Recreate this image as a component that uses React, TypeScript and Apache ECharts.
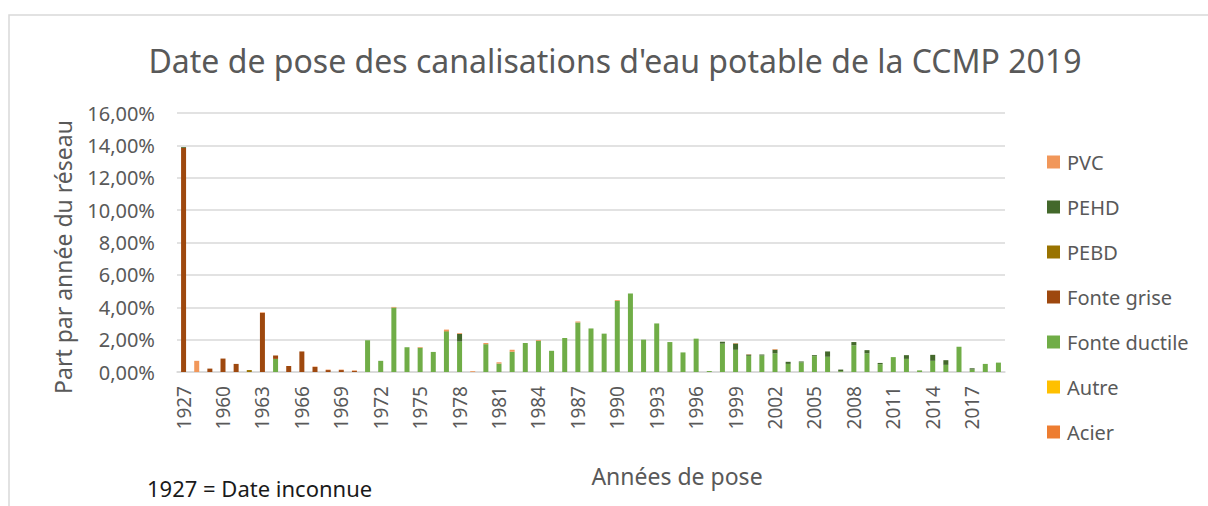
import React, { useEffect, useRef } from "react";
import * as echarts from "echarts";

const years = [
  "1927", "1958", "1959", "1960", "1961", "1962", "1963", "1964", "1965", "1966",
  "1967", "1968", "1969", "1970", "1971", "1972", "1973", "1974", "1975", "1976",
  "1977", "1978", "1979", "1980", "1981", "1982", "1983", "1984", "1985", "1986",
  "1987", "1988", "1989", "1990", "1991", "1992", "1993", "1994", "1995", "1996",
  "1997", "1998", "1999", "2000", "2001", "2002", "2003", "2004", "2005", "2006",
  "2007", "2008", "2009", "2010", "2011", "2012", "2013", "2014", "2015", "2016",
  "2017", "2018", "2019",
];

// values in % of network
const acier = [
  0, 0, 0, 0, 0, 0, 0, 0, 0, 0,
  0, 0, 0, 0, 0, 0, 0, 0, 0, 0,
  0, 0, 0, 0, 0, 0, 0, 0, 0, 0,
  0, 0, 0, 0, 0, 0, 0, 0, 0, 0,
  0, 0, 0, 0, 0, 0, 0, 0, 0, 0,
  0, 0, 0, 0, 0, 0, 0, 0, 0, 0,
  0, 0, 0,
];
const autre = [
  0, 0, 0, 0, 0, 0, 0, 0, 0, 0,
  0, 0, 0, 0, 0, 0, 0, 0, 0, 0,
  0, 0, 0, 0, 0, 0, 0, 0, 0, 0,
  0, 0, 0, 0, 0, 0, 0, 0, 0, 0,
  0, 0, 0, 0, 0, 0, 0, 0, 0, 0,
  0, 0, 0, 0, 0, 0, 0, 0, 0, 0,
  0, 0, 0,
];
const fonteDuctile = [
  0, 0, 0, 0, 0, 0, 0, 0.81, 0, 0,
  0, 0, 0, 0, 1.96, 0.69, 3.98, 1.53, 1.5, 1.24,
  2.5, 1.88, 0, 1.72, 0.52, 1.25, 1.79, 1.92, 1.31, 2.1,
  3.06, 2.69, 2.37, 4.39, 4.85, 2.0, 3.0, 1.85, 1.21, 2.06,
  0.06, 1.75, 1.37, 1.0, 1.02, 1.15, 0.5, 0.59, 0.98, 0.94,
  0.05, 1.65, 1.15, 0.48, 0.92, 0.81, 0.1, 0.69, 0.44, 1.56,
  0.15, 0.5, 0.58,
];
const fonteGrise = [
  13.85, 0, 0.21, 0.83, 0.5, 0, 3.65, 0.21, 0.37, 1.27,
  0.31, 0.12, 0.12, 0.06, 0, 0, 0, 0, 0, 0,
  0, 0, 0, 0, 0, 0, 0, 0, 0, 0,
  0, 0, 0, 0, 0, 0, 0, 0, 0, 0,
  0, 0, 0, 0, 0, 0, 0, 0, 0, 0,
  0, 0, 0, 0, 0, 0, 0, 0, 0, 0,
  0, 0, 0,
];
const pebd = [
  0, 0, 0, 0, 0, 0.12, 0, 0, 0, 0,
  0, 0, 0, 0, 0, 0, 0, 0, 0, 0,
  0.03, 0, 0, 0, 0, 0, 0, 0, 0, 0,
  0, 0, 0, 0, 0, 0, 0, 0, 0, 0,
  0, 0, 0, 0, 0, 0, 0, 0, 0, 0,
  0, 0, 0, 0, 0, 0, 0, 0, 0, 0,
  0, 0, 0,
];
const pehd = [
  0.05, 0, 0, 0, 0, 0, 0, 0, 0, 0,
  0, 0, 0, 0, 0, 0, 0, 0, 0, 0,
  0, 0.47, 0, 0, 0, 0, 0, 0, 0, 0,
  0, 0, 0, 0, 0, 0, 0, 0, 0, 0,
  0, 0.12, 0.39, 0.08, 0.06, 0.23, 0.13, 0.06, 0.06, 0.33,
  0.1, 0.2, 0.2, 0.08, 0, 0.23, 0, 0.37, 0.29, 0,
  0.08, 0, 0,
];
const pvc = [
  0, 0.69, 0, 0, 0, 0, 0.04, 0, 0, 0,
  0.03, 0.03, 0.03, 0.04, 0, 0, 0.04, 0, 0.04, 0,
  0.09, 0.05, 0.05, 0.07, 0.08, 0.12, 0, 0.05, 0, 0,
  0.06, 0, 0, 0.05, 0, 0, 0, 0, 0, 0,
  0, 0, 0.03, 0.02, 0, 0.04, 0, 0, 0, 0,
  0, 0, 0, 0, 0, 0, 0, 0, 0, 0,
  0, 0, 0,
];

const yTicks = { min: 0, max: 16, interval: 2 };
const legendOrder = ["PVC", "PEHD", "PEBD", "Fonte grise", "Fonte ductile", "Autre", "Acier"];

const seriesDefs = [
  { name: "Acier", data: acier, color: "#ED7D31" },
  { name: "Autre", data: autre, color: "#FFC000" },
  { name: "Fonte ductile", data: fonteDuctile, color: "#70AD47" },
  { name: "Fonte grise", data: fonteGrise, color: "#9E480E" },
  { name: "PEBD", data: pebd, color: "#997300" },
  { name: "PEHD", data: pehd, color: "#43682B" },
  { name: "PVC", data: pvc, color: "#F1975A" },
];

const FONT = "'Noto Sans', 'Open Sans', sans-serif";
const TXT = "#595959";

export default function App() {
  const ref = useRef<HTMLDivElement>(null);
  useEffect(() => {
    if (!ref.current) return;
    const chart = echarts.init(ref.current, null, { renderer: "svg" });
    chart.setOption({
      animation: false,
      backgroundColor: "#ffffff",
      textStyle: { fontFamily: FONT },
      grid: { left: 177, right: 203, top: 113, bottom: 134, containLabel: false },
      legend: {
        orient: "vertical",
        left: 1042,
        top: 145,
        data: legendOrder,
        icon: "rect",
        itemWidth: 13,
        itemHeight: 13,
        itemGap: 21,
        textStyle: { fontFamily: FONT, fontSize: 20, color: TXT, lineHeight: 24, padding: [0, 0, 0, 2] },
      },
      xAxis: {
        type: "category",
        data: years,
        axisTick: { show: false },
        axisLine: { lineStyle: { color: "#d9d9d9", width: 1.5 } },
        axisLabel: {
          interval: 2,
          rotate: 90,
          fontSize: 19,
          color: TXT,
          fontFamily: FONT,
          margin: 14,
        },
      },
      yAxis: {
        type: "value",
        min: yTicks.min,
        max: yTicks.max,
        interval: yTicks.interval,
        axisLine: { show: false },
        axisTick: { show: false },
        splitLine: { lineStyle: { color: "#d9d9d9", width: 1.5 } },
        axisLabel: {
          fontSize: 20,
          color: TXT,
          fontFamily: FONT,
          margin: 22,
          formatter: (v: number) => v.toFixed(2).replace(".", ",") + "%",
        },
      },
      series: seriesDefs.map((s) => ({
        name: s.name,
        type: "bar",
        stack: "total",
        data: s.data,
        barWidth: 5,
        itemStyle: { color: s.color },
      })),
      graphic: [
        {
          type: "rect",
          silent: true,
          shape: { x: 9, y: 15, width: 1400, height: 800 },
          style: { fill: "none", stroke: "#d9d9d9", lineWidth: 1.5 },
          z: -1,
        },
        {
          type: "text",
          x: 615,
          y: 60,
          style: {
            text: "Date de pose des canalisations d'eau potable de la CCMP 2019",
            fontSize: 32,
            fontFamily: FONT,
            fill: TXT,
            textAlign: "center",
            textVerticalAlign: "middle",
          },
        },
        {
          type: "text",
          x: 63,
          y: 257,
          rotation: Math.PI / 2,
          style: {
            text: "Part par année du réseau",
            fontSize: 23,
            fontFamily: FONT,
            fill: TXT,
            textAlign: "center",
            textVerticalAlign: "middle",
          },
        },
        {
          type: "text",
          x: 677,
          y: 476,
          style: {
            text: "Années de pose",
            fontSize: 23,
            fontFamily: FONT,
            fill: TXT,
            textAlign: "center",
            textVerticalAlign: "middle",
          },
        },
        {
          type: "text",
          x: 147,
          y: 488,
          style: {
            text: "1927 = Date inconnue",
            fontSize: 22,
            fontFamily: FONT,
            fill: "#1a1a1a",
            textAlign: "left",
            textVerticalAlign: "middle",
          },
        },
      ],
    });
    return () => chart.dispose();
  }, []);
  return (
    <div
      ref={ref}
      style={{ position: "absolute", left: 0, top: 0, width: 1208, height: 506 }}
    />
  );
}
